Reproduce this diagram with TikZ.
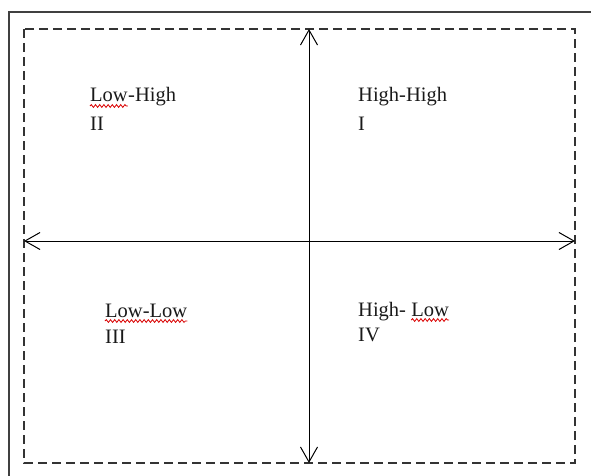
\documentclass[tikz,border=0pt]{standalone}
\usepackage{fontspec}
\setmainfont{Liberation Serif}
\usetikzlibrary{positioning,calc,arrows.meta,decorations.pathmorphing}
\tikzset{
  outerline/.style = {line width=1.5pt, draw=black!75},
  dashbox/.style   = {line width=1.1pt, draw=black!80, dash pattern=on 9pt off 5pt},
  qaxis/.style     = {line width=1pt,
                      {Straight Barb[length=15pt,width=17pt]}-{Straight Barb[length=15pt,width=17pt]}},
  qtxt/.style      = {inner sep=0pt, anchor=base west, text=black!90,
                      font=\fontsize{20.5}{24}\selectfont},
  squig/.style     = {draw=red!85!black, line width=0.8pt, decorate,
                      decoration={snake, amplitude=1.4pt, segment length=4.2pt}},
}
\begin{document}
\begin{tikzpicture}[x=1pt,y=-1pt]
  \useasboundingbox (0,0) rectangle (591,476);
  \draw[outerline] (9,476) -- (9,12) -- (591,12);
  \draw[dashbox] (24,29) rectangle (575,463);
  % axes
  \coordinate (ytop) at (309,29);
  \coordinate (ybot) at (309,463);
  \coordinate (xlft) at (24,241);
  \coordinate (xrgt) at (575,241);
  \draw[qaxis] (ytop) -- (ybot);
  \draw[qaxis] (xlft) -- (xrgt);
  % quadrant labels
  \node[qtxt] (lhA) at (90,102) {Low};
  \node[qtxt] (lhB) at (lhA.base east) {-High};
  \node[qtxt] (lhN) at (90,130) {II};
  \node[qtxt] (hhA) at (358,102) {High-High};
  \node[qtxt] (hhN) at (358,130) {I};
  \node[qtxt] (llA) at (105,317) {Low-Low};
  \node[qtxt] (llN) at (105,343) {III};
  \node[qtxt] (hlA) at (358,316) {High-};
  \node[qtxt] (hlB) at ($(hlA.base east)+(5,0)$) {Low};
  \node[qtxt] (hlN) at (358,341) {IV};
  % spelling marks
  \draw[squig] ($(lhA.base west)+(0,4)$) -- ($(lhA.base east)+(0,4)$);
  \draw[squig] ($(llA.base west)+(0,4)$) -- ($(llA.base east)+(0,4)$);
  \draw[squig] ($(hlB.base west)+(0,4)$) -- ($(hlB.base east)+(0,4)$);
\end{tikzpicture}
\end{document}
